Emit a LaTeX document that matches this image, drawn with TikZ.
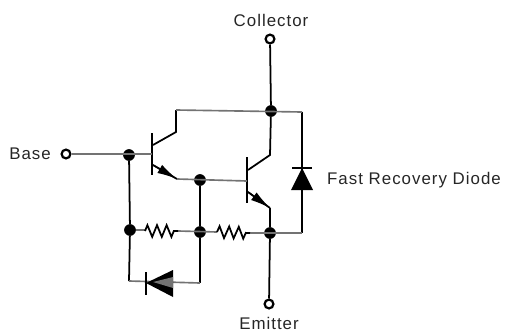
\documentclass[tikz,border=0pt]{standalone}
\usepackage{fontspec}
\setmainfont[LetterSpace=6]{Liberation Sans}
\usetikzlibrary{arrows.meta,decorations.pathmorphing}
\begin{document}
\begin{tikzpicture}[x=0.03cm,y=-0.03cm,
    wire/.style={line width=1.5pt,black},
    rail/.style={line width=1.4pt,black!55},
    bar/.style={line width=2.2pt,black},
    dot/.style={circle,fill=black,inner sep=0pt,minimum size=10pt},
    term/.style={circle,draw=black,fill=white,line width=1.9pt,inner sep=0pt,minimum size=7.5pt},
    lab/.style={font=\fontsize{14.4}{16}\selectfont,text=black!85},
    emit/.style={line width=1.2pt,-{Latex[length=17pt,width=8pt]}},
    zig/.style={line width=1.5pt,decorate,decoration={zigzag,segment length=8.2pt,amplitude=5pt}}]
  \useasboundingbox (0,0) rectangle (507,333);

  % terminals and junctions
  \node[term] (C) at (270,39) {};
  \node[term] (B) at (66,154) {};
  \node[term] (E) at (269,304) {};
  \node[dot] (jtop) at (271,111) {};
  \node[dot] (jbase) at (129,155) {};
  \node[dot] (jmid) at (200,180) {};
  \node[dot] (jra) at (130,230) {};
  \node[dot] (jrb) at (200,232) {};
  \node[dot] (jrc) at (270,233) {};

  \coordinate (q1b) at (152,154);
  \coordinate (q1c) at (153,145);
  \coordinate (q1k) at (176,132);
  \coordinate (q1t) at (176,110);
  \coordinate (q1e) at (153,165);
  \coordinate (q1x) at (177,179);
  \coordinate (q2b) at (247,181);
  \coordinate (q2c) at (248,170);
  \coordinate (q2k) at (270,155);
  \coordinate (q2e) at (248,192);
  \coordinate (q2x) at (270,208);
  \coordinate (rtop) at (302,112);
  \coordinate (rbot) at (302,233);
  \coordinate (dlt) at (129,281);
  \coordinate (drt) at (200,283);

  % verticals
  \draw[wire] (C) -- (jtop);
  \draw[wire] (jtop) -- (q2k) -- (q2c);
  \draw[wire] (q2x) -- (jrc) -- (E);
  \draw[wire] (jbase) -- (jra) -- (dlt);
  \draw[wire] (jmid) -- (jrb) -- (drt);
  \draw[wire] (rtop) -- (rbot);
  \draw[wire] (q1t) -- (q1k) -- (q1c);

  % transistors
  \draw[bar] (152,133) -- (152,175);
  \draw[bar] (247,157) -- (247,203);
  \draw[wire] (q1e) -- (q1x);
  \draw[wire] (q2e) -- (q2x);
  \draw[emit] (q1e) -- (q1x);
  \draw[emit] (q2e) -- (q2x);

  % rails
  \draw[rail] (B) -- (q1b);
  \draw[rail] (q1x) -- (q2b);
  \draw[rail] (q1t) -- (rtop);
  \draw[rail] (jra) -- ++(15,0);
  \draw[rail] (178,231) -- (217,232);
  \draw[rail] (250,233) -- (rbot);
  \draw[rail] (dlt) -- (drt);

  % resistors
  \draw[zig] (145,231) -- (178,231);
  \draw[zig] (217,232) -- (250,233);

  % fast recovery diode
  \fill (302,168) -- (313,190) -- (291,190) -- cycle;
  \draw[bar] (292,168) -- (312,168);

  % lower diode
  \fill (146,283) -- (173,270) -- (173,297) -- cycle;
  \fill[black!55] (153,282) -- (173,277) -- (173,288) -- cycle;
  \draw[bar] (146,272) -- (146,295);

  \node[lab] (clab) at (271,20) {Collector};
  \node[lab] (blab) at (30,154) {Base};
  \node[lab] (elab) at (269,323) {Emitter};
  \node[lab,anchor=west] (dlab) at (323,180) {Fast Recovery Diode};
\end{tikzpicture}
\end{document}
